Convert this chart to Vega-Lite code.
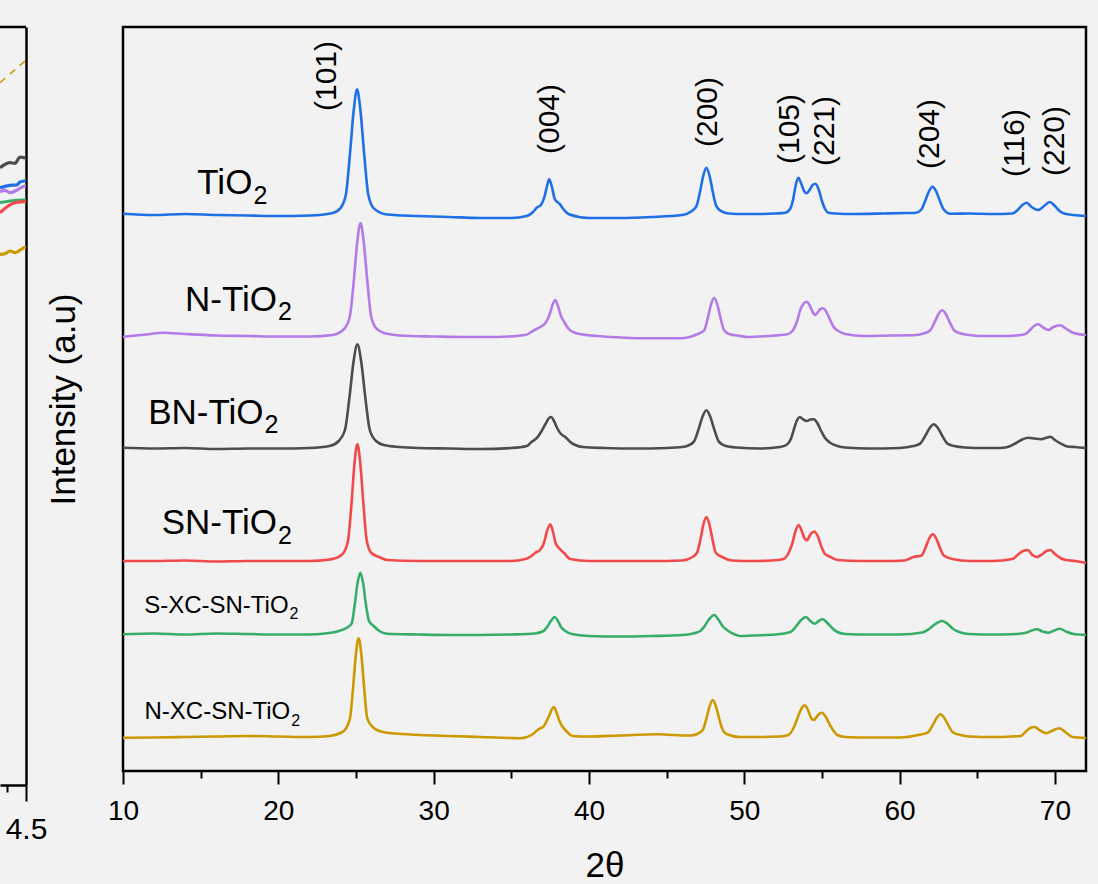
{
  "$schema": "https://vega.github.io/schema/vega-lite/v6.json",
  "background": "#f2f2f2",
  "padding": {"left": -5, "top": 22, "right": 20, "bottom": 4},
  "bounds": "flush",
  "spacing": 97,
  "config": {
    "font": "Liberation Sans",
    "view": {"stroke": "black", "strokeWidth": 2.5},
    "axis": {"grid": false, "labelColor": "black", "titleColor": "black", "titleFontWeight": "normal", "labelFont": "Liberation Sans", "titleFont": "Liberation Sans"},
    "text": {"font": "Liberation Sans", "color": "black"}
  },
  "datasets": {
    "left": [
      {"s":"BN-TiO2","x":4.163,"y":617.3},{"s":"BN-TiO2","x":4.293,"y":622.3},{"s":"BN-TiO2","x":4.357,"y":621.7},{"s":"BN-TiO2","x":4.422,"y":628},{"s":"BN-TiO2","x":4.474,"y":627.3},{"s":"BN-TiO2","x":4.5,"y":627},
      {"s":"TiO2","x":4.163,"y":597.3},{"s":"TiO2","x":4.293,"y":599.7},{"s":"TiO2","x":4.379,"y":600},{"s":"TiO2","x":4.422,"y":603},{"s":"TiO2","x":4.474,"y":604},{"s":"TiO2","x":4.5,"y":604.5},
      {"s":"N-TiO2","x":4.163,"y":593.3},{"s":"N-TiO2","x":4.228,"y":594.7},{"s":"N-TiO2","x":4.293,"y":592.3},{"s":"N-TiO2","x":4.379,"y":594.7},{"s":"N-TiO2","x":4.474,"y":598.7},{"s":"N-TiO2","x":4.5,"y":599},
      {"s":"S-XC-SN-TiO2","x":4.163,"y":582.3},{"s":"S-XC-SN-TiO2","x":4.293,"y":584},{"s":"S-XC-SN-TiO2","x":4.474,"y":585},{"s":"S-XC-SN-TiO2","x":4.5,"y":585},
      {"s":"SN-TiO2","x":4.163,"y":572.3},{"s":"SN-TiO2","x":4.25,"y":578},{"s":"SN-TiO2","x":4.357,"y":582.3},{"s":"SN-TiO2","x":4.474,"y":583.3},{"s":"SN-TiO2","x":4.5,"y":583.5},
      {"s":"N-XC-SN-TiO2","x":4.163,"y":530.7},{"s":"N-XC-SN-TiO2","x":4.228,"y":531.3},{"s":"N-XC-SN-TiO2","x":4.293,"y":534},{"s":"N-XC-SN-TiO2","x":4.357,"y":532.3},{"s":"N-XC-SN-TiO2","x":4.474,"y":537.3},{"s":"N-XC-SN-TiO2","x":4.5,"y":538}
    ],
    "dash": [{"x":4.163,"y":702.3},{"x":4.487,"y":724}],
    "topEdge": [{"x":4.163,"y":758},{"x":4.5,"y":758}],
    "peaks": [
      {"t":"(101)","x":23.14,"y":695},{"t":"(004)","x":37.48,"y":652},{"t":"(200)","x":47.68,"y":659},{"t":"(105)","x":52.96,"y":642},
      {"t":"(221)","x":55.17,"y":640},{"t":"(204)","x":61.97,"y":637},{"t":"(116)","x":67.45,"y":628},{"t":"(220)","x":70.03,"y":630}
    ],
    "bigLabels": [
      {"t":"TiO","x":18.33,"y":576.7},{"t":"N-TiO","x":19.92,"y":460},
      {"t":"BN-TiO","x":19.05,"y":347.3},{"t":"SN-TiO","x":19.92,"y":237.3}
    ],
    "bigSubs": [
      {"t":"2","x":18.33,"y":566.7},{"t":"2","x":19.92,"y":451},
      {"t":"2","x":19.05,"y":337.7},{"t":"2","x":19.92,"y":226.7}
    ],
    "smallLabels": [
      {"t":"S-XC-SN-TiO","x":20.66,"y":157.7},{"t":"N-XC-SN-TiO","x":20.77,"y":51.7}
    ],
    "smallSubs": [
      {"t":"2","x":20.66,"y":151.7},{"t":"2","x":20.77,"y":45}
    ],
    "main": [
      {"s":"TiO2","x":10,"y":557.3},{"s":"TiO2","x":12,"y":556},{"s":"TiO2","x":14,"y":557},{"s":"TiO2","x":16,"y":556},{"s":"TiO2","x":18,"y":555.5},{"s":"TiO2","x":20,"y":555},{"s":"TiO2","x":22,"y":555.5},{"s":"TiO2","x":23.5,"y":558},{"s":"TiO2","x":23.99,"y":562.6},{"s":"TiO2","x":24.35,"y":576.5},{"s":"TiO2","x":24.62,"y":618.4},{"s":"TiO2","x":24.85,"y":660},{"s":"TiO2","x":25.07,"y":681.7},{"s":"TiO2","x":25.29,"y":660},{"s":"TiO2","x":25.52,"y":618.4},{"s":"TiO2","x":25.79,"y":576.5},{"s":"TiO2","x":26.15,"y":562.6},{"s":"TiO2","x":27,"y":556.5},{"s":"TiO2","x":29,"y":555},{"s":"TiO2","x":31,"y":554},{"s":"TiO2","x":33,"y":553},{"s":"TiO2","x":35,"y":553},{"s":"TiO2","x":36,"y":555},{"s":"TiO2","x":36.4,"y":559},{"s":"TiO2","x":36.63,"y":563.3},{"s":"TiO2","x":36.9,"y":566},{"s":"TiO2","x":37.15,"y":575},{"s":"TiO2","x":37.3,"y":585},{"s":"TiO2","x":37.44,"y":591.7},{"s":"TiO2","x":37.6,"y":585},{"s":"TiO2","x":37.8,"y":572},{"s":"TiO2","x":38.1,"y":567.3},{"s":"TiO2","x":38.4,"y":561},{"s":"TiO2","x":38.71,"y":556.7},{"s":"TiO2","x":40,"y":553},{"s":"TiO2","x":42,"y":553},{"s":"TiO2","x":44,"y":554},{"s":"TiO2","x":46,"y":556},{"s":"TiO2","x":46.6,"y":559.8},{"s":"TiO2","x":46.92,"y":564.9},{"s":"TiO2","x":47.16,"y":580},{"s":"TiO2","x":47.36,"y":595.4},{"s":"TiO2","x":47.56,"y":603.3},{"s":"TiO2","x":47.76,"y":595.4},{"s":"TiO2","x":47.96,"y":580},{"s":"TiO2","x":48.2,"y":564.9},{"s":"TiO2","x":48.52,"y":559.8},{"s":"TiO2","x":49,"y":557.5},{"s":"TiO2","x":50,"y":557},{"s":"TiO2","x":51,"y":557},{"s":"TiO2","x":52,"y":557.5},{"s":"TiO2","x":52.65,"y":558.3},{"s":"TiO2","x":52.95,"y":562},{"s":"TiO2","x":53.15,"y":572},{"s":"TiO2","x":53.3,"y":585},{"s":"TiO2","x":53.48,"y":593.3},{"s":"TiO2","x":53.65,"y":588},{"s":"TiO2","x":53.85,"y":580},{"s":"TiO2","x":54.02,"y":577.7},{"s":"TiO2","x":54.2,"y":581},{"s":"TiO2","x":54.4,"y":586},{"s":"TiO2","x":54.58,"y":587.3},{"s":"TiO2","x":54.78,"y":582},{"s":"TiO2","x":55,"y":570},{"s":"TiO2","x":55.2,"y":562},{"s":"TiO2","x":55.42,"y":558.3},{"s":"TiO2","x":55.9,"y":557.5},{"s":"TiO2","x":57,"y":557},{"s":"TiO2","x":59,"y":557.5},{"s":"TiO2","x":60.5,"y":558},{"s":"TiO2","x":61.06,"y":558.3},{"s":"TiO2","x":61.4,"y":561.5},{"s":"TiO2","x":61.67,"y":571},{"s":"TiO2","x":61.9,"y":580},{"s":"TiO2","x":62.12,"y":584.3},{"s":"TiO2","x":62.34,"y":580},{"s":"TiO2","x":62.57,"y":571},{"s":"TiO2","x":62.84,"y":561.5},{"s":"TiO2","x":63.27,"y":557.3},{"s":"TiO2","x":64.5,"y":557.5},{"s":"TiO2","x":66,"y":557},{"s":"TiO2","x":67.26,"y":557.5},{"s":"TiO2","x":67.6,"y":561},{"s":"TiO2","x":67.9,"y":566},{"s":"TiO2","x":68.18,"y":568.3},{"s":"TiO2","x":68.5,"y":564},{"s":"TiO2","x":68.92,"y":561},{"s":"TiO2","x":69.3,"y":565},{"s":"TiO2","x":69.66,"y":569},{"s":"TiO2","x":70,"y":565},{"s":"TiO2","x":70.3,"y":560},{"s":"TiO2","x":70.64,"y":557.3},{"s":"TiO2","x":71.2,"y":556},{"s":"TiO2","x":72,"y":555},

      {"s":"N-TiO2","x":10,"y":434.3},{"s":"N-TiO2","x":11.5,"y":436.5},{"s":"N-TiO2","x":12.6,"y":438.3},{"s":"N-TiO2","x":14,"y":437},{"s":"N-TiO2","x":16,"y":435.5},{"s":"N-TiO2","x":18,"y":435},{"s":"N-TiO2","x":20,"y":434.5},{"s":"N-TiO2","x":22,"y":434.5},{"s":"N-TiO2","x":23.5,"y":436},{"s":"N-TiO2","x":24.27,"y":442.7},{"s":"N-TiO2","x":24.61,"y":455},{"s":"N-TiO2","x":24.87,"y":492},{"s":"N-TiO2","x":25.08,"y":529},{"s":"N-TiO2","x":25.29,"y":548},{"s":"N-TiO2","x":25.5,"y":529},{"s":"N-TiO2","x":25.72,"y":492},{"s":"N-TiO2","x":25.97,"y":455},{"s":"N-TiO2","x":26.31,"y":442.7},{"s":"N-TiO2","x":27,"y":437.3},{"s":"N-TiO2","x":28.5,"y":435},{"s":"N-TiO2","x":30,"y":434.5},{"s":"N-TiO2","x":32,"y":434},{"s":"N-TiO2","x":34,"y":434},{"s":"N-TiO2","x":35.9,"y":436},{"s":"N-TiO2","x":36.5,"y":441},{"s":"N-TiO2","x":36.87,"y":444},{"s":"N-TiO2","x":37.2,"y":448},{"s":"N-TiO2","x":37.5,"y":458},{"s":"N-TiO2","x":37.65,"y":466},{"s":"N-TiO2","x":37.84,"y":471},{"s":"N-TiO2","x":38,"y":465},{"s":"N-TiO2","x":38.2,"y":455},{"s":"N-TiO2","x":38.37,"y":450},{"s":"N-TiO2","x":38.7,"y":442},{"s":"N-TiO2","x":39.12,"y":438},{"s":"N-TiO2","x":40,"y":435.7},{"s":"N-TiO2","x":41.5,"y":434},{"s":"N-TiO2","x":43.3,"y":432.7},{"s":"N-TiO2","x":45.9,"y":432.7},{"s":"N-TiO2","x":46.96,"y":436.7},{"s":"N-TiO2","x":47.42,"y":440.7},{"s":"N-TiO2","x":47.66,"y":453.7},{"s":"N-TiO2","x":47.86,"y":466.6},{"s":"N-TiO2","x":48.06,"y":473.3},{"s":"N-TiO2","x":48.26,"y":466.6},{"s":"N-TiO2","x":48.46,"y":453.7},{"s":"N-TiO2","x":48.7,"y":440.7},{"s":"N-TiO2","x":49.02,"y":437},{"s":"N-TiO2","x":49.75,"y":435},{"s":"N-TiO2","x":50.2,"y":434},{"s":"N-TiO2","x":51.5,"y":435},{"s":"N-TiO2","x":52.76,"y":436.7},{"s":"N-TiO2","x":53.1,"y":440},{"s":"N-TiO2","x":53.4,"y":450},{"s":"N-TiO2","x":53.6,"y":461},{"s":"N-TiO2","x":53.8,"y":467},{"s":"N-TiO2","x":54,"y":469.3},{"s":"N-TiO2","x":54.2,"y":466},{"s":"N-TiO2","x":54.4,"y":459},{"s":"N-TiO2","x":54.57,"y":456},{"s":"N-TiO2","x":54.75,"y":459},{"s":"N-TiO2","x":54.9,"y":462},{"s":"N-TiO2","x":55.07,"y":462.7},{"s":"N-TiO2","x":55.25,"y":460},{"s":"N-TiO2","x":55.5,"y":452},{"s":"N-TiO2","x":55.75,"y":444},{"s":"N-TiO2","x":56.06,"y":440},{"s":"N-TiO2","x":56.5,"y":437},{"s":"N-TiO2","x":57.7,"y":435},{"s":"N-TiO2","x":59.5,"y":435.5},{"s":"N-TiO2","x":60.9,"y":435.7},{"s":"N-TiO2","x":61.54,"y":437.5},{"s":"N-TiO2","x":61.94,"y":440.2},{"s":"N-TiO2","x":62.24,"y":448.4},{"s":"N-TiO2","x":62.49,"y":456.5},{"s":"N-TiO2","x":62.74,"y":460.7},{"s":"N-TiO2","x":62.99,"y":456.5},{"s":"N-TiO2","x":63.24,"y":448.4},{"s":"N-TiO2","x":63.54,"y":440.2},{"s":"N-TiO2","x":63.94,"y":437.5},{"s":"N-TiO2","x":64.5,"y":436},{"s":"N-TiO2","x":65.2,"y":435},{"s":"N-TiO2","x":66.5,"y":435},{"s":"N-TiO2","x":67.5,"y":435.5},{"s":"N-TiO2","x":68.1,"y":437},{"s":"N-TiO2","x":68.4,"y":441},{"s":"N-TiO2","x":68.7,"y":445.5},{"s":"N-TiO2","x":68.92,"y":446.7},{"s":"N-TiO2","x":69.2,"y":444},{"s":"N-TiO2","x":69.58,"y":441},{"s":"N-TiO2","x":69.9,"y":444},{"s":"N-TiO2","x":70.35,"y":445.7},{"s":"N-TiO2","x":70.7,"y":442.5},{"s":"N-TiO2","x":71.2,"y":438},{"s":"N-TiO2","x":72,"y":436},

      {"s":"BN-TiO2","x":10,"y":323.3},{"s":"BN-TiO2","x":12,"y":322.5},{"s":"BN-TiO2","x":14,"y":323},{"s":"BN-TiO2","x":16,"y":322},{"s":"BN-TiO2","x":18,"y":322.5},{"s":"BN-TiO2","x":20,"y":322.5},{"s":"BN-TiO2","x":22,"y":323},{"s":"BN-TiO2","x":23.3,"y":325},{"s":"BN-TiO2","x":23.89,"y":330},{"s":"BN-TiO2","x":24.29,"y":341},{"s":"BN-TiO2","x":24.59,"y":375},{"s":"BN-TiO2","x":24.84,"y":409},{"s":"BN-TiO2","x":25.09,"y":426.7},{"s":"BN-TiO2","x":25.34,"y":409},{"s":"BN-TiO2","x":25.59,"y":375},{"s":"BN-TiO2","x":25.89,"y":341},{"s":"BN-TiO2","x":26.29,"y":330},{"s":"BN-TiO2","x":26.8,"y":326},{"s":"BN-TiO2","x":27.8,"y":324},{"s":"BN-TiO2","x":29,"y":323},{"s":"BN-TiO2","x":31,"y":322.5},{"s":"BN-TiO2","x":33,"y":322},{"s":"BN-TiO2","x":35,"y":323},{"s":"BN-TiO2","x":36,"y":325},{"s":"BN-TiO2","x":36.3,"y":329},{"s":"BN-TiO2","x":36.66,"y":333.3},{"s":"BN-TiO2","x":36.95,"y":340},{"s":"BN-TiO2","x":37.2,"y":347},{"s":"BN-TiO2","x":37.4,"y":352.5},{"s":"BN-TiO2","x":37.56,"y":354},{"s":"BN-TiO2","x":37.75,"y":350},{"s":"BN-TiO2","x":37.95,"y":343},{"s":"BN-TiO2","x":38.2,"y":337},{"s":"BN-TiO2","x":38.48,"y":334},{"s":"BN-TiO2","x":38.8,"y":329},{"s":"BN-TiO2","x":39.12,"y":326},{"s":"BN-TiO2","x":39.6,"y":324},{"s":"BN-TiO2","x":41,"y":323},{"s":"BN-TiO2","x":43,"y":322.5},{"s":"BN-TiO2","x":45,"y":323},{"s":"BN-TiO2","x":46,"y":324},{"s":"BN-TiO2","x":46.36,"y":325.3},{"s":"BN-TiO2","x":46.76,"y":329.4},{"s":"BN-TiO2","x":47.06,"y":341.9},{"s":"BN-TiO2","x":47.31,"y":354.3},{"s":"BN-TiO2","x":47.56,"y":360.7},{"s":"BN-TiO2","x":47.81,"y":354.3},{"s":"BN-TiO2","x":48.06,"y":341.9},{"s":"BN-TiO2","x":48.36,"y":329.4},{"s":"BN-TiO2","x":48.76,"y":325.3},{"s":"BN-TiO2","x":49.5,"y":323.5},{"s":"BN-TiO2","x":51,"y":322.5},{"s":"BN-TiO2","x":52.3,"y":324},{"s":"BN-TiO2","x":52.71,"y":326},{"s":"BN-TiO2","x":53,"y":332},{"s":"BN-TiO2","x":53.2,"y":342},{"s":"BN-TiO2","x":53.4,"y":351},{"s":"BN-TiO2","x":53.57,"y":354},{"s":"BN-TiO2","x":53.8,"y":351.5},{"s":"BN-TiO2","x":54.04,"y":350},{"s":"BN-TiO2","x":54.25,"y":351.5},{"s":"BN-TiO2","x":54.47,"y":351.7},{"s":"BN-TiO2","x":54.7,"y":348},{"s":"BN-TiO2","x":54.95,"y":340},{"s":"BN-TiO2","x":55.2,"y":333},{"s":"BN-TiO2","x":55.55,"y":328},{"s":"BN-TiO2","x":56,"y":325},{"s":"BN-TiO2","x":56.5,"y":323.5},{"s":"BN-TiO2","x":58,"y":322.5},{"s":"BN-TiO2","x":60,"y":323},{"s":"BN-TiO2","x":60.88,"y":324.9},{"s":"BN-TiO2","x":61.32,"y":327.4},{"s":"BN-TiO2","x":61.65,"y":335.1},{"s":"BN-TiO2","x":61.93,"y":342.8},{"s":"BN-TiO2","x":62.2,"y":346.7},{"s":"BN-TiO2","x":62.47,"y":342.8},{"s":"BN-TiO2","x":62.75,"y":335.1},{"s":"BN-TiO2","x":63.08,"y":327.4},{"s":"BN-TiO2","x":63.52,"y":324.9},{"s":"BN-TiO2","x":64.2,"y":323.5},{"s":"BN-TiO2","x":65.5,"y":323},{"s":"BN-TiO2","x":66.5,"y":323},{"s":"BN-TiO2","x":67.14,"y":325},{"s":"BN-TiO2","x":67.5,"y":328},{"s":"BN-TiO2","x":67.9,"y":331.5},{"s":"BN-TiO2","x":68.27,"y":333.3},{"s":"BN-TiO2","x":68.7,"y":332.5},{"s":"BN-TiO2","x":69.07,"y":331.7},{"s":"BN-TiO2","x":69.4,"y":333},{"s":"BN-TiO2","x":69.71,"y":334.3},{"s":"BN-TiO2","x":70,"y":331},{"s":"BN-TiO2","x":70.35,"y":327.7},{"s":"BN-TiO2","x":70.8,"y":324.5},{"s":"BN-TiO2","x":71.3,"y":324},{"s":"BN-TiO2","x":72,"y":323},

      {"s":"SN-TiO2","x":10,"y":210},{"s":"SN-TiO2","x":12,"y":210},{"s":"SN-TiO2","x":14,"y":210.5},{"s":"SN-TiO2","x":16,"y":209.5},{"s":"SN-TiO2","x":18,"y":210},{"s":"SN-TiO2","x":20,"y":210},{"s":"SN-TiO2","x":22,"y":210},{"s":"SN-TiO2","x":23.3,"y":211.5},{"s":"SN-TiO2","x":23.78,"y":213.3},{"s":"SN-TiO2","x":24.19,"y":218},{"s":"SN-TiO2","x":24.49,"y":230.7},{"s":"SN-TiO2","x":24.72,"y":269},{"s":"SN-TiO2","x":24.9,"y":307},{"s":"SN-TiO2","x":25.09,"y":327},{"s":"SN-TiO2","x":25.28,"y":307},{"s":"SN-TiO2","x":25.47,"y":269},{"s":"SN-TiO2","x":25.69,"y":230.7},{"s":"SN-TiO2","x":25.99,"y":218},{"s":"SN-TiO2","x":26.5,"y":214},{"s":"SN-TiO2","x":27,"y":211},{"s":"SN-TiO2","x":29,"y":210},{"s":"SN-TiO2","x":31,"y":210},{"s":"SN-TiO2","x":33,"y":210},{"s":"SN-TiO2","x":35,"y":210},{"s":"SN-TiO2","x":35.9,"y":212},{"s":"SN-TiO2","x":36.3,"y":215},{"s":"SN-TiO2","x":36.55,"y":218.3},{"s":"SN-TiO2","x":36.85,"y":221},{"s":"SN-TiO2","x":37.1,"y":228},{"s":"SN-TiO2","x":37.3,"y":240},{"s":"SN-TiO2","x":37.51,"y":246.7},{"s":"SN-TiO2","x":37.7,"y":238},{"s":"SN-TiO2","x":37.85,"y":228},{"s":"SN-TiO2","x":38.05,"y":223.3},{"s":"SN-TiO2","x":38.4,"y":218},{"s":"SN-TiO2","x":38.8,"y":212},{"s":"SN-TiO2","x":40,"y":210},{"s":"SN-TiO2","x":42,"y":210},{"s":"SN-TiO2","x":44,"y":210},{"s":"SN-TiO2","x":46,"y":210.5},{"s":"SN-TiO2","x":46.66,"y":214},{"s":"SN-TiO2","x":46.96,"y":218.3},{"s":"SN-TiO2","x":47.19,"y":232.5},{"s":"SN-TiO2","x":47.37,"y":246.7},{"s":"SN-TiO2","x":47.56,"y":254},{"s":"SN-TiO2","x":47.75,"y":246.7},{"s":"SN-TiO2","x":47.94,"y":232.5},{"s":"SN-TiO2","x":48.16,"y":218.3},{"s":"SN-TiO2","x":48.59,"y":214},{"s":"SN-TiO2","x":49.2,"y":210.5},{"s":"SN-TiO2","x":50.5,"y":210},{"s":"SN-TiO2","x":51.8,"y":210.5},{"s":"SN-TiO2","x":52.52,"y":212},{"s":"SN-TiO2","x":52.85,"y":218},{"s":"SN-TiO2","x":53.1,"y":228},{"s":"SN-TiO2","x":53.3,"y":240},{"s":"SN-TiO2","x":53.5,"y":246},{"s":"SN-TiO2","x":53.7,"y":240},{"s":"SN-TiO2","x":53.87,"y":233},{"s":"SN-TiO2","x":54.04,"y":230.7},{"s":"SN-TiO2","x":54.2,"y":235},{"s":"SN-TiO2","x":54.37,"y":238.5},{"s":"SN-TiO2","x":54.53,"y":239.3},{"s":"SN-TiO2","x":54.75,"y":234},{"s":"SN-TiO2","x":54.95,"y":225},{"s":"SN-TiO2","x":55.2,"y":217},{"s":"SN-TiO2","x":55.55,"y":214},{"s":"SN-TiO2","x":56,"y":211},{"s":"SN-TiO2","x":57.5,"y":210},{"s":"SN-TiO2","x":59,"y":210},{"s":"SN-TiO2","x":60.3,"y":210.5},{"s":"SN-TiO2","x":60.89,"y":214},{"s":"SN-TiO2","x":61.41,"y":215.4},{"s":"SN-TiO2","x":61.68,"y":223.9},{"s":"SN-TiO2","x":61.9,"y":232.3},{"s":"SN-TiO2","x":62.13,"y":236.7},{"s":"SN-TiO2","x":62.36,"y":232.3},{"s":"SN-TiO2","x":62.58,"y":223.9},{"s":"SN-TiO2","x":62.85,"y":215.4},{"s":"SN-TiO2","x":63.4,"y":212},{"s":"SN-TiO2","x":64.5,"y":210},{"s":"SN-TiO2","x":66,"y":210},{"s":"SN-TiO2","x":67.26,"y":212},{"s":"SN-TiO2","x":67.6,"y":216},{"s":"SN-TiO2","x":67.95,"y":220},{"s":"SN-TiO2","x":68.25,"y":221},{"s":"SN-TiO2","x":68.55,"y":216},{"s":"SN-TiO2","x":68.85,"y":214},{"s":"SN-TiO2","x":69.2,"y":217},{"s":"SN-TiO2","x":69.45,"y":220},{"s":"SN-TiO2","x":69.71,"y":221},{"s":"SN-TiO2","x":70,"y":217},{"s":"SN-TiO2","x":70.35,"y":213},{"s":"SN-TiO2","x":70.71,"y":211},{"s":"SN-TiO2","x":71.3,"y":210},{"s":"SN-TiO2","x":72,"y":208},

      {"s":"S-XC-SN-TiO2","x":10,"y":136.7},{"s":"S-XC-SN-TiO2","x":12,"y":137.5},{"s":"S-XC-SN-TiO2","x":14,"y":136.5},{"s":"S-XC-SN-TiO2","x":16,"y":137.5},{"s":"S-XC-SN-TiO2","x":18,"y":137},{"s":"S-XC-SN-TiO2","x":20,"y":136.5},{"s":"S-XC-SN-TiO2","x":22,"y":136.5},{"s":"S-XC-SN-TiO2","x":23,"y":137.5},{"s":"S-XC-SN-TiO2","x":23.9,"y":140},{"s":"S-XC-SN-TiO2","x":24.42,"y":143.3},{"s":"S-XC-SN-TiO2","x":24.72,"y":147.4},{"s":"S-XC-SN-TiO2","x":24.93,"y":167.7},{"s":"S-XC-SN-TiO2","x":25.1,"y":187.9},{"s":"S-XC-SN-TiO2","x":25.28,"y":198.3},{"s":"S-XC-SN-TiO2","x":25.46,"y":187.9},{"s":"S-XC-SN-TiO2","x":25.63,"y":167.7},{"s":"S-XC-SN-TiO2","x":25.84,"y":150},{"s":"S-XC-SN-TiO2","x":26.14,"y":145},{"s":"S-XC-SN-TiO2","x":26.5,"y":140},{"s":"S-XC-SN-TiO2","x":27,"y":137.3},{"s":"S-XC-SN-TiO2","x":29,"y":136.5},{"s":"S-XC-SN-TiO2","x":31,"y":136},{"s":"S-XC-SN-TiO2","x":33,"y":136},{"s":"S-XC-SN-TiO2","x":35,"y":136.5},{"s":"S-XC-SN-TiO2","x":36.5,"y":137.5},{"s":"S-XC-SN-TiO2","x":37.08,"y":140},{"s":"S-XC-SN-TiO2","x":37.3,"y":144},{"s":"S-XC-SN-TiO2","x":37.55,"y":150},{"s":"S-XC-SN-TiO2","x":37.79,"y":154},{"s":"S-XC-SN-TiO2","x":38,"y":150},{"s":"S-XC-SN-TiO2","x":38.2,"y":144},{"s":"S-XC-SN-TiO2","x":38.48,"y":140},{"s":"S-XC-SN-TiO2","x":38.9,"y":137},{"s":"S-XC-SN-TiO2","x":40,"y":135},{"s":"S-XC-SN-TiO2","x":42,"y":134.5},{"s":"S-XC-SN-TiO2","x":44,"y":135},{"s":"S-XC-SN-TiO2","x":46,"y":136},{"s":"S-XC-SN-TiO2","x":46.7,"y":137.5},{"s":"S-XC-SN-TiO2","x":47.17,"y":140},{"s":"S-XC-SN-TiO2","x":47.45,"y":145},{"s":"S-XC-SN-TiO2","x":47.7,"y":151},{"s":"S-XC-SN-TiO2","x":48.06,"y":156},{"s":"S-XC-SN-TiO2","x":48.35,"y":151},{"s":"S-XC-SN-TiO2","x":48.6,"y":145},{"s":"S-XC-SN-TiO2","x":48.97,"y":140},{"s":"S-XC-SN-TiO2","x":49.4,"y":136.5},{"s":"S-XC-SN-TiO2","x":49.75,"y":135},{"s":"S-XC-SN-TiO2","x":50.5,"y":135.5},{"s":"S-XC-SN-TiO2","x":52,"y":136.5},{"s":"S-XC-SN-TiO2","x":52.97,"y":139},{"s":"S-XC-SN-TiO2","x":53.3,"y":144},{"s":"S-XC-SN-TiO2","x":53.6,"y":150},{"s":"S-XC-SN-TiO2","x":53.98,"y":154},{"s":"S-XC-SN-TiO2","x":54.25,"y":150},{"s":"S-XC-SN-TiO2","x":54.53,"y":147.3},{"s":"S-XC-SN-TiO2","x":54.8,"y":150},{"s":"S-XC-SN-TiO2","x":55.05,"y":151.7},{"s":"S-XC-SN-TiO2","x":55.35,"y":148},{"s":"S-XC-SN-TiO2","x":55.65,"y":143},{"s":"S-XC-SN-TiO2","x":55.99,"y":139},{"s":"S-XC-SN-TiO2","x":56.5,"y":137},{"s":"S-XC-SN-TiO2","x":58,"y":136.5},{"s":"S-XC-SN-TiO2","x":60,"y":136.5},{"s":"S-XC-SN-TiO2","x":61.47,"y":138.5},{"s":"S-XC-SN-TiO2","x":61.9,"y":142},{"s":"S-XC-SN-TiO2","x":62.3,"y":147},{"s":"S-XC-SN-TiO2","x":62.74,"y":150},{"s":"S-XC-SN-TiO2","x":63.1,"y":147},{"s":"S-XC-SN-TiO2","x":63.45,"y":142},{"s":"S-XC-SN-TiO2","x":63.92,"y":138.5},{"s":"S-XC-SN-TiO2","x":64.5,"y":137},{"s":"S-XC-SN-TiO2","x":66,"y":136.5},{"s":"S-XC-SN-TiO2","x":67.5,"y":137},{"s":"S-XC-SN-TiO2","x":68.2,"y":138.5},{"s":"S-XC-SN-TiO2","x":68.5,"y":140.5},{"s":"S-XC-SN-TiO2","x":68.85,"y":141.7},{"s":"S-XC-SN-TiO2","x":69.2,"y":139.5},{"s":"S-XC-SN-TiO2","x":69.6,"y":138.3},{"s":"S-XC-SN-TiO2","x":69.95,"y":140.5},{"s":"S-XC-SN-TiO2","x":70.31,"y":142.3},{"s":"S-XC-SN-TiO2","x":70.7,"y":139.5},{"s":"S-XC-SN-TiO2","x":71.2,"y":137},{"s":"S-XC-SN-TiO2","x":72,"y":136},

      {"s":"N-XC-SN-TiO2","x":10,"y":33.3},{"s":"N-XC-SN-TiO2","x":12,"y":33.5},{"s":"N-XC-SN-TiO2","x":14,"y":34},{"s":"N-XC-SN-TiO2","x":16,"y":34.5},{"s":"N-XC-SN-TiO2","x":18,"y":35},{"s":"N-XC-SN-TiO2","x":20,"y":34.5},{"s":"N-XC-SN-TiO2","x":22,"y":34},{"s":"N-XC-SN-TiO2","x":23.3,"y":35},{"s":"N-XC-SN-TiO2","x":24,"y":38},{"s":"N-XC-SN-TiO2","x":24.33,"y":42},{"s":"N-XC-SN-TiO2","x":24.61,"y":52.4},{"s":"N-XC-SN-TiO2","x":24.82,"y":84.4},{"s":"N-XC-SN-TiO2","x":24.99,"y":116},{"s":"N-XC-SN-TiO2","x":25.17,"y":132.7},{"s":"N-XC-SN-TiO2","x":25.35,"y":116},{"s":"N-XC-SN-TiO2","x":25.52,"y":84.4},{"s":"N-XC-SN-TiO2","x":25.73,"y":52.4},{"s":"N-XC-SN-TiO2","x":26.12,"y":43.3},{"s":"N-XC-SN-TiO2","x":26.5,"y":40},{"s":"N-XC-SN-TiO2","x":27,"y":38.3},{"s":"N-XC-SN-TiO2","x":28,"y":37},{"s":"N-XC-SN-TiO2","x":29.14,"y":36},{"s":"N-XC-SN-TiO2","x":31,"y":35},{"s":"N-XC-SN-TiO2","x":33,"y":34},{"s":"N-XC-SN-TiO2","x":35,"y":33},{"s":"N-XC-SN-TiO2","x":35.58,"y":32.7},{"s":"N-XC-SN-TiO2","x":36.3,"y":36},{"s":"N-XC-SN-TiO2","x":36.76,"y":41.7},{"s":"N-XC-SN-TiO2","x":37.1,"y":45},{"s":"N-XC-SN-TiO2","x":37.4,"y":54},{"s":"N-XC-SN-TiO2","x":37.73,"y":64},{"s":"N-XC-SN-TiO2","x":37.95,"y":57},{"s":"N-XC-SN-TiO2","x":38.1,"y":50},{"s":"N-XC-SN-TiO2","x":38.27,"y":45},{"s":"N-XC-SN-TiO2","x":38.6,"y":39},{"s":"N-XC-SN-TiO2","x":38.93,"y":35},{"s":"N-XC-SN-TiO2","x":40,"y":34.5},{"s":"N-XC-SN-TiO2","x":42,"y":35.5},{"s":"N-XC-SN-TiO2","x":44.39,"y":36.7},{"s":"N-XC-SN-TiO2","x":45.5,"y":36},{"s":"N-XC-SN-TiO2","x":46.5,"y":35.5},{"s":"N-XC-SN-TiO2","x":46.98,"y":37},{"s":"N-XC-SN-TiO2","x":47.33,"y":41.1},{"s":"N-XC-SN-TiO2","x":47.57,"y":53},{"s":"N-XC-SN-TiO2","x":47.77,"y":64.9},{"s":"N-XC-SN-TiO2","x":47.97,"y":71},{"s":"N-XC-SN-TiO2","x":48.17,"y":64.9},{"s":"N-XC-SN-TiO2","x":48.37,"y":53},{"s":"N-XC-SN-TiO2","x":48.61,"y":41.1},{"s":"N-XC-SN-TiO2","x":48.85,"y":37},{"s":"N-XC-SN-TiO2","x":49.75,"y":34},{"s":"N-XC-SN-TiO2","x":51,"y":34},{"s":"N-XC-SN-TiO2","x":52.3,"y":34.5},{"s":"N-XC-SN-TiO2","x":52.84,"y":36},{"s":"N-XC-SN-TiO2","x":53.2,"y":44},{"s":"N-XC-SN-TiO2","x":53.5,"y":56},{"s":"N-XC-SN-TiO2","x":53.7,"y":63},{"s":"N-XC-SN-TiO2","x":53.89,"y":65.7},{"s":"N-XC-SN-TiO2","x":54.1,"y":61},{"s":"N-XC-SN-TiO2","x":54.3,"y":53},{"s":"N-XC-SN-TiO2","x":54.47,"y":51},{"s":"N-XC-SN-TiO2","x":54.7,"y":55},{"s":"N-XC-SN-TiO2","x":54.85,"y":57.5},{"s":"N-XC-SN-TiO2","x":55.01,"y":58.3},{"s":"N-XC-SN-TiO2","x":55.25,"y":54},{"s":"N-XC-SN-TiO2","x":55.55,"y":45},{"s":"N-XC-SN-TiO2","x":55.99,"y":36},{"s":"N-XC-SN-TiO2","x":56.5,"y":34},{"s":"N-XC-SN-TiO2","x":58,"y":33.5},{"s":"N-XC-SN-TiO2","x":60,"y":33.5},{"s":"N-XC-SN-TiO2","x":61.21,"y":36},{"s":"N-XC-SN-TiO2","x":61.83,"y":38.7},{"s":"N-XC-SN-TiO2","x":62.13,"y":45.9},{"s":"N-XC-SN-TiO2","x":62.38,"y":53},{"s":"N-XC-SN-TiO2","x":62.63,"y":56.7},{"s":"N-XC-SN-TiO2","x":62.88,"y":53},{"s":"N-XC-SN-TiO2","x":63.13,"y":45.9},{"s":"N-XC-SN-TiO2","x":63.43,"y":38.7},{"s":"N-XC-SN-TiO2","x":63.92,"y":36},{"s":"N-XC-SN-TiO2","x":64.5,"y":34.5},{"s":"N-XC-SN-TiO2","x":66,"y":34},{"s":"N-XC-SN-TiO2","x":67.2,"y":34.5},{"s":"N-XC-SN-TiO2","x":67.78,"y":35},{"s":"N-XC-SN-TiO2","x":68.1,"y":39},{"s":"N-XC-SN-TiO2","x":68.4,"y":43},{"s":"N-XC-SN-TiO2","x":68.7,"y":44},{"s":"N-XC-SN-TiO2","x":69.05,"y":40.5},{"s":"N-XC-SN-TiO2","x":69.45,"y":37.7},{"s":"N-XC-SN-TiO2","x":69.85,"y":40.5},{"s":"N-XC-SN-TiO2","x":70.29,"y":42.7},{"s":"N-XC-SN-TiO2","x":70.7,"y":38.5},{"s":"N-XC-SN-TiO2","x":71.13,"y":34},{"s":"N-XC-SN-TiO2","x":72,"y":33}
    ]
  },
  "hconcat": [
    {
      "width": 26,
      "height": 758,
      "view": {"stroke": null},
      "encoding": {
        "x": {"field": "x", "type": "quantitative", "scale": {"domain": [4.163, 4.5], "nice": false, "zero": false},
          "axis": {"values": [4.25, 4.5], "labelExpr": "datum.value == 4.5 ? '4.5' : ''",
            "tickSize": {"condition": {"test": "datum.value == 4.5", "value": 16}, "value": 7},
            "tickColor": "black", "tickWidth": 2, "domain": true, "domainColor": "black", "domainWidth": 2.5,
            "labelFontSize": 30, "labelPadding": 13, "labelFlush": false, "labelOverlap": false, "labelBound": false, "title": null}},
        "y": {"field": "y", "type": "quantitative", "scale": {"domain": [0, 758], "nice": false, "zero": false},
          "axis": {"orient": "right", "domain": true, "domainColor": "black", "domainWidth": 2.5, "ticks": false, "labels": false, "title": null}}
      },
      "layer": [
        {
          "data": {"name": "left"},
          "mark": {"type": "line", "strokeWidth": 3.2, "interpolate": "monotone", "clip": true},
          "encoding": {
            "color": {"field": "s", "type": "nominal", "legend": null,
              "scale": {"domain": ["TiO2", "N-TiO2", "BN-TiO2", "SN-TiO2", "S-XC-SN-TiO2", "N-XC-SN-TiO2"],
                "range": ["#1f6fe5", "#b47be6", "#4d4d4d", "#f24a4a", "#37ad6a", "#cc9a00"]}}
          }
        },
        {
          "data": {"name": "dash"},
          "mark": {"type": "line", "strokeDash": [7, 6], "strokeWidth": 1.6, "color": "#cc9a00", "clip": true}
        },
        {
          "data": {"name": "topEdge"},
          "mark": {"type": "line", "strokeWidth": 2.5, "color": "black"}
        }
      ]
    },
    {
      "width": 963,
      "height": 744,
      "encoding": {
        "x": {"field": "x", "type": "quantitative", "scale": {"domain": [10, 72], "nice": false, "zero": false},
          "axis": {"values": [10, 15, 20, 25, 30, 35, 40, 45, 50, 55, 60, 65, 70],
            "labelExpr": "datum.value % 10 == 0 ? datum.label : ''",
            "tickSize": {"condition": {"test": "datum.value % 10 == 0", "value": 13}, "value": 7},
            "tickColor": "black", "tickWidth": 2, "domain": false,
            "labelFontSize": 28, "labelPadding": 13, "labelFlush": false, "labelOverlap": false,
            "title": "2θ", "titleFontSize": 35, "titlePadding": 23}},
        "y": {"field": "y", "type": "quantitative", "scale": {"domain": [0, 744], "nice": false, "zero": false},
          "axis": {"domain": false, "ticks": false, "labels": false, "title": "Intensity (a.u)", "titleFontSize": 35, "titlePadding": 42}}
      },
      "layer": [
        {
          "data": {"name": "main"},
          "mark": {"type": "line", "strokeWidth": 2.6, "interpolate": "monotone", "clip": true},
          "encoding": {
            "color": {"field": "s", "type": "nominal", "legend": null,
              "scale": {"domain": ["TiO2", "N-TiO2", "BN-TiO2", "SN-TiO2", "S-XC-SN-TiO2", "N-XC-SN-TiO2"],
                "range": ["#1f6fe5", "#b47be6", "#4d4d4d", "#f24a4a", "#37ad6a", "#cc9a00"]}}
          }
        },
        {
          "data": {"name": "peaks"},
          "mark": {"type": "text", "angle": 270, "align": "center", "baseline": "middle", "fontSize": 30},
          "encoding": {"text": {"field": "t"}}
        },
        {
          "data": {"name": "bigLabels"},
          "mark": {"type": "text", "align": "right", "baseline": "alphabetic", "fontSize": 35},
          "encoding": {"text": {"field": "t"}}
        },
        {
          "data": {"name": "bigSubs"},
          "mark": {"type": "text", "align": "left", "baseline": "alphabetic", "fontSize": 25, "dx": 1},
          "encoding": {"text": {"field": "t"}}
        },
        {
          "data": {"name": "smallLabels"},
          "mark": {"type": "text", "align": "right", "baseline": "alphabetic", "fontSize": 24},
          "encoding": {"text": {"field": "t"}}
        },
        {
          "data": {"name": "smallSubs"},
          "mark": {"type": "text", "align": "left", "baseline": "alphabetic", "fontSize": 16, "dx": 1},
          "encoding": {"text": {"field": "t"}}
        }
      ]
    }
  ]
}
